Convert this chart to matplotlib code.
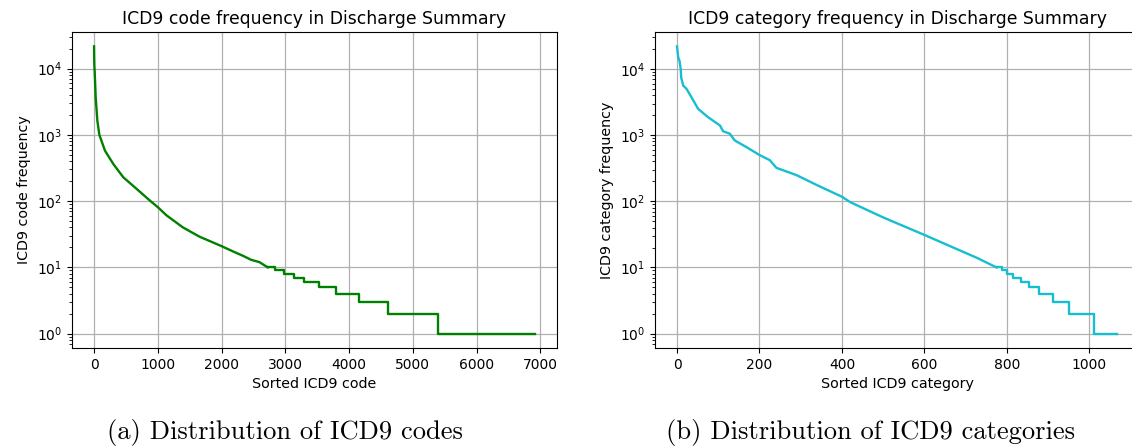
import matplotlib
matplotlib.use("Agg")
import matplotlib.pyplot as plt
from matplotlib.ticker import LogLocator, NullFormatter

# ---- data ----
# ICD9 codes: smooth head (rank, frequency)
code_rank_head = [0, 2, 5, 10, 26, 52, 83, 172, 302, 458, 667, 875, 1000, 1136, 1395,
                  1656, 1995, 2203, 2333, 2464, 2594, 2724]
code_freq_head = [21600, 15000, 11000, 9000, 3600, 1630, 1000, 575, 363, 229, 153, 102, 81, 61, 40,
                  29, 21, 17, 15, 13, 12, 10]
# ICD9 codes: step tail (rank where level starts, frequency level)
code_rank_tail = [2724, 2839, 2974, 3141, 3300, 3533, 3800, 4155, 4609, 5403, 6917]
code_freq_tail = [10, 9, 8, 7, 6, 5, 4, 3, 2, 1, 1]

# ICD9 categories: smooth head
cat_rank_head = [0, 3, 6, 9, 10, 15, 23, 35, 51, 75, 104, 112, 128, 140, 168, 200,
                 225, 241, 290, 339, 400, 420, 500, 600, 662, 727, 775]
cat_freq_head = [21900, 14900, 13300, 10000, 7500, 5600, 5000, 3740, 2500, 1870, 1400,
                 1140, 1050, 830, 660, 500, 418, 320, 248, 176, 117, 97, 57, 31, 21, 14, 10]
# ICD9 categories: step tail
cat_rank_tail = [775, 788, 800, 816, 834, 854, 877, 912, 950, 1012, 1067]
cat_freq_tail = [10, 9, 8, 7, 6, 5, 4, 3, 2, 1, 1]

titles = ["ICD9 code frequency in Discharge Summary",
          "ICD9 category frequency in Discharge Summary"]
xlabels = ["Sorted ICD9 code", "Sorted ICD9 category"]
ylabels = ["ICD9 code frequency", "ICD9 category frequency"]
captions = ["(a) Distribution of ICD9 codes", "(b) Distribution of ICD9 categories"]
colors = ["green", "#17becf"]

W, H = 1132, 447
fig = plt.figure(figsize=(W / 100, H / 100), dpi=100)

# axes boxes in pixels: (left, top, right, bottom)
boxes = [(72, 32, 557, 348), (655, 32, 1139, 348)]
series = [(code_rank_head, code_freq_head, code_rank_tail, code_freq_tail),
          (cat_rank_head, cat_freq_head, cat_rank_tail, cat_freq_tail)]
caption_x = [285, 870]

for i in range(2):
    l, t, r, b = boxes[i]
    ax = fig.add_axes([l / W, 1 - b / H, (r - l) / W, (b - t) / H])
    xh, yh, xt, yt = series[i]
    ax.plot(xh, yh, color=colors[i], lw=1.7)
    ax.step(xt, yt, where="post", color=colors[i], lw=1.7)
    ax.set_yscale("log")
    ax.yaxis.set_major_locator(LogLocator(base=10, numticks=20))
    ax.yaxis.set_minor_locator(LogLocator(base=10, subs=range(2, 10), numticks=100))
    ax.yaxis.set_minor_formatter(NullFormatter())
    ax.grid(True, which="major", color="#b0b0b0", lw=0.9)
    ax.set_title(titles[i], fontsize=12.4)
    ax.set_xlabel(xlabels[i], fontsize=10.3)
    ax.set_ylabel(ylabels[i], fontsize=10.3)
    ax.tick_params(labelsize=10)
    fig.text(caption_x[i] / W, 1 - 432 / H, captions[i], family="cmr10",
             fontsize=19.1, ha="center", va="center")

fig.savefig("out.png", dpi=100)
